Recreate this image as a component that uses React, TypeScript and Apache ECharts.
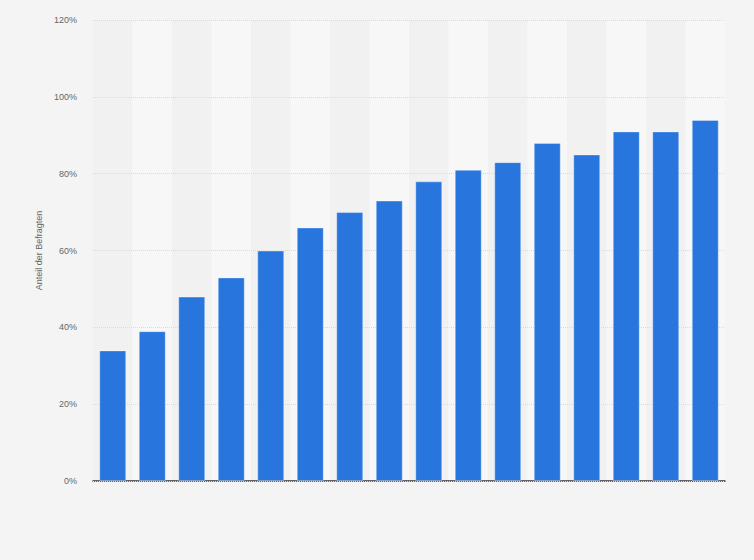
import { useEffect, useRef } from 'react'
import * as echarts from 'echarts'

// ===== 数据 =====
const categories = ['1', '2', '3', '4', '5', '6', '7', '8', '9', '10', '11', '12', '13', '14', '15', '16']
const shares = [34, 39, 48, 53, 60, 66, 70, 73, 78, 81, 83, 88, 85, 91, 91, 94]
const yTicks = [0, 20, 40, 60, 80, 100, 120]

export default function App() {
  const ref = useRef<HTMLDivElement>(null)

  useEffect(() => {
    document.body.style.margin = '0'
    if (!ref.current) return
    const chart = echarts.init(ref.current, null, { renderer: 'svg' })
    chart.setOption({
      animation: false,
      backgroundColor: '#f4f4f4',
      grid: { left: 93, right: 29, top: 20, bottom: 79 },
      xAxis: {
        type: 'category',
        data: categories,
        z: 0,
        axisLabel: { show: false },
        axisTick: { show: false },
        axisLine: { show: true, lineStyle: { color: '#333', width: 1.5 } },
        splitArea: { show: true, areaStyle: { color: ['#f1f1f1', '#f7f7f7'] } },
      },
      yAxis: {
        type: 'value',
        z: 1,
        min: yTicks[0],
        max: yTicks[yTicks.length - 1],
        interval: 20,
        name: 'Anteil der Befragten',
        nameLocation: 'middle',
        nameGap: 50,
        nameTextStyle: { fontSize: 9, color: '#666', fontFamily: 'Liberation Sans, Arial, sans-serif' },
        axisLabel: {
          formatter: '{value}%',
          fontSize: 9,
          color: '#666',
          margin: 16,
          fontFamily: 'Liberation Sans, Arial, sans-serif',
        },
        axisLine: { show: false },
        axisTick: { show: false },
        splitLine: { lineStyle: { color: '#dadada', type: 'dotted', width: 1 } },
      },
      series: [
        {
          type: 'bar',
          z: 2,
          data: shares,
          barWidth: 27,
          itemStyle: {
            color: '#2876dd',
            borderColor: 'rgba(255,255,255,0.35)',
            borderWidth: 1,
          },
        },
      ],
    })
    return () => chart.dispose()
  }, [])

  return <div ref={ref} style={{ width: 754, height: 560 }} />
}
